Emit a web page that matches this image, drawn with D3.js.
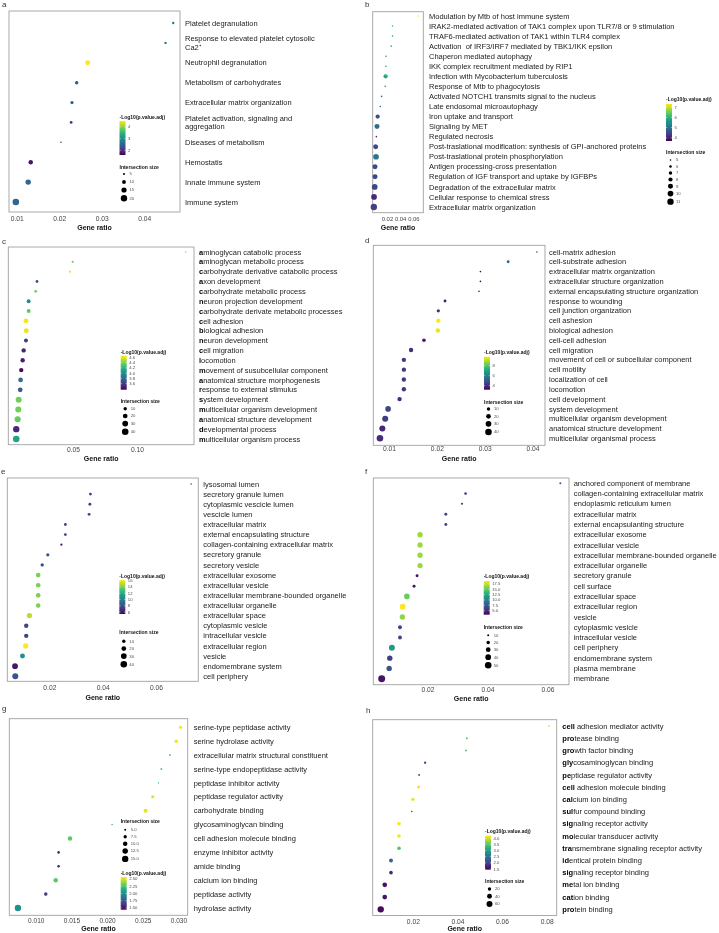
<!DOCTYPE html>
<html><head><meta charset="utf-8">
<script src="https://cdn.jsdelivr.net/npm/d3@7"></script>
<style>
body{margin:0;background:#fff;}
svg{opacity:0.999;will-change:transform;}
text{font-family:"Liberation Sans", Arial, Helvetica, sans-serif;}
</style></head><body>
<svg id="chart" width="719" height="933"></svg>
<script>
// ---------- DATA ----------
const aTerms = ["Platelet degranulation", "Response to elevated platelet cytosolic\nCa2\u207A", "Neutrophil degranulation", "Metabolism of carbohydrates", "Extracellular matrix organization", "Platelet activation, signaling and\naggregation", "Diseases of metabolism", "Hemostatis", "Innate immune system", "Immune system"];
const aRatio = [0.0468, 0.0450, 0.0267, 0.0241, 0.0230, 0.0228, 0.0204, 0.0133, 0.0127, 0.0098];
const aLogP = [2.76, 2.8, 4.5, 2.4, 2.4, 2.1, 1.9, 1.75, 2.55, 2.55];
const aSize = [6, 6, 14, 9, 8, 7, 4, 12, 16, 21];
const aTicks = [0.01, 0.02, 0.03, 0.04];
const aColorTicks = [2, 3, 4];
const aSizeTicks = [5, 10, 15, 20];

const bTerms = ["Modulation by Mtb of host immune system", "IRAK2-mediated activation of TAK1 complex upon TLR7/8 or 9 stimulation", "TRAF6-mediated activation of TAK1 within TLR4 complex", "Activation  of IRF3/IRF7 mediated by TBK1/IKK epsilon", "Chaperon mediated autophagy", "IKK complex recruitment mediated by RIP1", "Infection with Mycobacterium tuberculosis", "Response of Mtb to phagocytosis", "Activated NOTCH1 transmits signal to the nucleus", "Late endosomal microautophagy", "Iron uptake and transport", "Signaling by MET", "Regulated necrosis", "Post-traslational modification: synthesis of GPI-anchored proteins", "Post-traslational protein phosphorylation", "Antigen processing-cross presentation", "Regulation of IGF transport and uptake by IGFBPs", "Degradation of the extracellular matrix", "Cellular response to chemical stress", "Extracellular matrix organization"];
const bRatio = [0.0675, 0.0285, 0.0285, 0.0265, 0.0185, 0.0185, 0.018, 0.0175, 0.012, 0.010, 0.006, 0.005, 0.004, 0.003, 0.0035, 0.002, 0.002, 0.0015, 0.0005, 0.0002];
const bLogP = [7.3, 6.0, 6.0, 5.9, 5.5, 5.5, 5.9, 5.5, 5.0, 4.9, 4.6, 5.0, 4.0, 4.5, 5.1, 4.5, 4.5, 4.5, 4.1, 4.4];
const bSize = [5, 5, 5, 5, 5, 5, 8, 5, 5, 5, 8, 9, 5, 9, 10, 9, 9, 10, 10, 11];
const bTicks = [0.02, 0.04, 0.06];
const bColorTicks = [4, 5, 6, 7];
const bSizeTicks = [5, 6, 7, 8, 9, 10, 11];

const cTerms = ["aminoglycan catabolic process", "aminoglycan metabolic process", "carbohydrate derivative catabolic process", "axon development", "carbohydrate metabolic process", "neuron projection development", "carbohydrate derivate metabolic processes", "cell adhesion", "biological adhesion", "neuron development", "cell migration", "locomotion", "movement of susubcellular component", "anatomical structure morphogenesis", "response to external stimulus", "system development", "multicellular organism development", "anatomical structure development", "developmental process", "multicellular organism process"];
const cRatio = [0.138, 0.0498, 0.0477, 0.0219, 0.0209, 0.0154, 0.0154, 0.0133, 0.0135, 0.0133, 0.0115, 0.0107, 0.0096, 0.0091, 0.0088, 0.0076, 0.0073, 0.0068, 0.0057, 0.0057];
const cLogP = [4.47, 4.38, 4.63, 3.72, 4.4, 4.0, 4.34, 4.64, 4.62, 3.6, 3.5, 3.47, 3.41, 3.85, 3.73, 4.38, 4.38, 4.35, 3.52, 4.12];
const cSize = [2, 4, 4, 7, 7, 14, 14, 22, 22, 14, 17, 17, 17, 20, 20, 33, 33, 34, 37, 40];
const cBold = [1, 1, 1, 1, 1, 1, 1, 1, 1, 1, 1, 1, 1, 1, 1, 1, 1, 1, 1, 1];
const cTicks = [0.05, 0.10];
const cColorTicks = [3.6, 3.8, 4.0, 4.2, 4.4, 4.6];
const cSizeTicks = [10, 20, 30, 40];

const dTerms = ["cell-matrix adhesion", "cell-substrate adhesion", "extracellular matrix organization", "extracellular structure organization", "external encapsulating structure organization", "response to wounding", "cell junction organization", "cell ashesion", "biological adhesion", "cell-cell adhesion", "cell migration", "movement of cell or subcellular component", "cell motility", "localization of cell", "locomotion", "cell development", "system development", "multicellular organism development", "anatomical structure development", "multicellular organismal process"];
const dRatio = [0.0409, 0.0349, 0.0291, 0.0291, 0.0288, 0.0217, 0.0203, 0.0203, 0.0202, 0.0173, 0.0146, 0.0131, 0.0131, 0.0131, 0.0131, 0.0122, 0.0098, 0.0092, 0.0086, 0.0081];
const dLogP = [4.5, 5.4, 3.3, 3.3, 3.3, 3.7, 4.1, 9.8, 9.6, 3.6, 4.1, 4.3, 4.3, 4.3, 4.3, 4.0, 4.6, 4.3, 3.9, 4.0];
const dSize = [2, 7, 2, 2, 2, 7, 9, 17, 17, 11, 17, 17, 17, 17, 17, 17, 29, 33, 33, 40];
const dTicks = [0.01, 0.02, 0.03, 0.04];
const dColorTicks = [4, 6, 8];
const dSizeTicks = [10, 20, 30, 40];

const eTerms = ["lysosomal lumen", "secretory granule lumen", "cytoplasmic vescicle lumen", "vescicle lumen", "extracellular matrix", "external encapsulating structure", "collagen-containing extracellular matrix", "secretory granule", "secretory vesicle", "extracellular exosome", "extracellular vesicle", "extracellular membrane-bounded organelle", "extracellular organelle", "extracellular space", "cytoplasmic vesicle", "intracellular vesicle", "extracellular region", "vesicle", "endomembrane system", "cell periphery"];
const eRatio = [0.0732, 0.0354, 0.0352, 0.0349, 0.026, 0.026, 0.0245, 0.0194, 0.0173, 0.0158, 0.0158, 0.0158, 0.0158, 0.0125, 0.0113, 0.0113, 0.0111, 0.0099, 0.0071, 0.0072];
const eLogP = [7.6, 7.4, 7.4, 7.4, 7.6, 7.6, 5.9, 8.1, 7.6, 14.0, 14.0, 14.0, 14.0, 15.1, 7.6, 7.6, 16.2, 10.8, 6.0, 8.3];
const eSize = [2, 7, 7, 7, 7, 7, 4, 9, 9, 19, 19, 19, 19, 25, 17, 17, 26, 22, 30, 33];
const eTicks = [0.02, 0.04, 0.06];
const eColorTicks = [6, 8, 10, 12, 14, 16];
const eSizeTicks = [10, 20, 30, 40];

const fTerms = ["anchored component of membrane", "collagen-containing extracellular matrix", "endoplasmic reticulum lumen", "extracellular matrix", "external encapsulanting structure", "extracellular exosome", "extracellular vesicle", "extracellular membrane-bounded organelle", "extracellular organelle", "secretory granule", "cell surface", "extracellular space", "extracellular region", "vesicle", "cytoplasmic vesicle", "intracellular vesicle", "cell periphery", "endomembrane system", "plasma membrane", "membrane"];
const fRatio = [0.0643, 0.0327, 0.0315, 0.0261, 0.0261, 0.0175, 0.0175, 0.0175, 0.0175, 0.0165, 0.0155, 0.0131, 0.0117, 0.0116, 0.0108, 0.0108, 0.0081, 0.0074, 0.0072, 0.0047];
const fLogP = [7.1, 6.3, 4.7, 6.3, 6.3, 16.5, 16.5, 16.5, 16.5, 3.9, 3.9, 15.3, 18.9, 16.2, 6.3, 6.3, 11.8, 6.0, 7.1, 3.9];
const fSize = [10, 14, 10, 16, 16, 36, 36, 36, 36, 16, 16, 39, 40, 36, 23, 23, 43, 36, 36, 54];
const fTicks = [0.02, 0.04, 0.06];
const fColorTicks = [5, 7.5, 10, 12.5, 15, 17.5];
const fSizeTicks = [10, 20, 30, 40, 50];

const gTerms = ["serine-type peptidase activity", "serine hydrolase activity", "extracellular matrix structural constituent", "serine-type endopeptidase activity", "peptidase inhibitor activity", "peptidase regulator activity", "carbohydrate binding", "glycosaminoglycan binding", "cell adhesion molecule binding", "enzyme inhibitor activity", "amide binding", "calcium ion binding", "peptidase activity", "hydrolase activity"];
const gRatio = [0.0303, 0.0297, 0.0288, 0.0276, 0.0272, 0.0264, 0.0254, 0.0207, 0.0148, 0.0132, 0.0132, 0.0128, 0.0114, 0.0075];
const gLogP = [2.55, 2.55, 2.29, 2.29, 2.17, 2.51, 2.53, 2.0, 2.29, 1.55, 1.55, 2.29, 1.67, 2.0];
const gSize = [7, 8, 5, 5, 4, 7, 9, 4, 10, 6, 6, 10, 8, 15];
const gTicks = [0.010, 0.015, 0.020, 0.025, 0.030];
const gColorTicks = [1.5, 1.75, 2.0, 2.25, 2.5];
const gSizeTicks = [5, 7.5, 10, 12.5, 15];

const hTerms = ["cell adhesion mediator activity", "protease binding", "growth factor binding", "glycosaminoglycan binding", "peptidase regulator activity", "cell adhesion molecule binding", "calcium ion binding", "sulfur compound binding", "signaling receptor activity", "molecular transducer activity", "transmembrane signaling receptor activity", "identical protein binding", "signaling receptor binding", "metal ion binding", "cation binding", "protein binding"];
const hRatio = [0.0810, 0.0442, 0.0438, 0.0255, 0.0228, 0.0226, 0.0200, 0.0195, 0.0138, 0.0138, 0.0138, 0.0102, 0.0102, 0.0074, 0.0074, 0.0056];
const hLogP = [3.8, 3.43, 3.43, 2.14, 1.86, 4.15, 4.12, 2.0, 4.15, 4.15, 3.43, 2.33, 1.73, 1.6, 1.6, 1.53];
const hSize = [5, 7, 7, 10, 7, 16, 19, 5, 23, 23, 22, 27, 23, 37, 37, 67];
const hBold = [4, 3, 3, 3, 2, 4, 3, 3, 3, 2, 3, 2, 3, 2, 3, 3];
const hTicks = [0.02, 0.04, 0.06, 0.08];
const hColorTicks = [1.5, 2.0, 2.5, 3.0, 3.5, 4.0];
const hSizeTicks = [20, 40, 60];

// ---------- LAYOUT / STYLE ----------
const panels = [
  {letter:'a', lp:[2,7], terms:aTerms, ratio:aRatio, logp:aLogP, size:aSize, bold:null,
   box:[9,11,180,212], xDomain:[0.00819,0.0484], ticks:aTicks, tickFmt:'.2f', tickFont:6.7, rows:[23,202], labelX:185, tickY:219, titleY:228,
   cDomain:[1.6,4.5], cTicks:aColorTicks, cFmt:'d', sDomain:[5,20], sRange:[1,3.2], sTicks:aSizeTicks, sFmt:'d',
   lx:119.5, cbTitleY:117, cbTop:121, cbBot:155, szTitleY:167, szFirstY:174, minKey:8},
  {letter:'b', lp:[365,7], terms:bTerms, ratio:bRatio, logp:bLogP, size:bSize, bold:null,
   box:[372.7,11.7,423.3,212.7], xDomain:[-0.0015,0.075], ticks:bTicks, tickFmt:'.2f', tickFont:5.9, rows:[16,207], labelX:429, tickY:219, titleY:228,
   cDomain:[3.7,7.3], cTicks:bColorTicks, cFmt:'d', sDomain:[5,11], sRange:[0.8,3.2], sTicks:bSizeTicks, sFmt:'d',
   lx:666, cbTitleY:99, cbTop:104, cbBot:141, szTitleY:152, szFirstY:160, minKey:6.5},
  {letter:'c', lp:[2,243.5], terms:cTerms, ratio:cRatio, logp:cLogP, size:cSize, bold:cBold,
   box:[8.3,247,194,444.7], xDomain:[-0.0005,0.1445], ticks:cTicks, tickFmt:'.2f', tickFont:6.7, rows:[252,439], labelX:199, tickY:449.7, titleY:458.7,
   cDomain:[3.37,4.66], cTicks:cColorTicks, cFmt:'.1f', sDomain:[10,40], sRange:[1.7,3.3], sTicks:cSizeTicks, sFmt:'d',
   lx:120.7, cbTitleY:352.3, cbTop:355.8, cbBot:389.7, szTitleY:401.7, szFirstY:408.7, minKey:7.3},
  {letter:'d', lp:[365,242.5], terms:dTerms, ratio:dRatio, logp:dLogP, size:dSize, bold:null,
   box:[373.3,245.3,545,445.3], xDomain:[0.00671,0.0426], ticks:dTicks, tickFmt:'.2f', tickFont:6.7, rows:[252,438.3], labelX:549, tickY:449, titleY:459,
   cDomain:[3.2,9.8], cTicks:dColorTicks, cFmt:'d', sDomain:[10,40], sRange:[1.7,3.3], sTicks:dSizeTicks, sFmt:'d',
   lx:484, cbTitleY:352.3, cbTop:356.7, cbBot:389.7, szTitleY:402, szFirstY:409, minKey:7.3},
  {letter:'e', lp:[1,473.5], terms:eTerms, ratio:eRatio, logp:eLogP, size:eSize, bold:null,
   box:[7.3,478,198.3,681.3], xDomain:[0.0042,0.0759], ticks:eTicks, tickFmt:'.2f', tickFont:6.7, rows:[484,676.3], labelX:203.3, tickY:688, titleY:697.3,
   cDomain:[5.4,16.2], cTicks:eColorTicks, cFmt:'d', sDomain:[10,40], sRange:[1.7,3.3], sTicks:eSizeTicks, sFmt:'d',
   lx:119.3, cbTitleY:576.3, cbTop:580, cbBot:614, szTitleY:632.7, szFirstY:641.3, minKey:7.3},
  {letter:'f', lp:[365,474], terms:fTerms, ratio:fRatio, logp:fLogP, size:fSize, bold:null,
   box:[373.3,478,569,684.7], xDomain:[0.0019,0.0672], ticks:fTicks, tickFmt:'.2f', tickFont:6.7, rows:[483.3,678.7], labelX:573.7, tickY:689.7, titleY:699,
   cDomain:[3.1,18.9], cTicks:fColorTicks, cFmt:'.1f', sDomain:[10,50], sRange:[1,3.3], sTicks:fSizeTicks, sFmt:'d',
   lx:483.7, cbTitleY:576.3, cbTop:581, cbBot:614.7, szTitleY:627.3, szFirstY:635.3, minKey:7.2},
  {letter:'g', lp:[2,711], terms:gTerms, ratio:gRatio, logp:gLogP, size:gSize, bold:null,
   box:[9.3,718.7,187.7,915.3], xDomain:[0.00629,0.0313], ticks:gTicks, tickFmt:'.3f', tickFont:6.5, rows:[727.3,908], labelX:193.7, tickY:921, titleY:928.3,
   cDomain:[1.44,2.57], cTicks:gColorTicks, cFmt:'.2f', sDomain:[5,15], sRange:[1,3.2], sTicks:gSizeTicks, sFmt:'.1f',
   lx:120.7, cbTitleY:873, cbTop:877, cbBot:909.7, szTitleY:821.3, szFirstY:829.7, minKey:7},
  {letter:'h', lp:[366,712.5], terms:hTerms, ratio:hRatio, logp:hLogP, size:hSize, bold:hBold,
   box:[372.7,719.7,556.7,915.5], xDomain:[0.002,0.0845], ticks:hTicks, tickFmt:'.2f', tickFont:6.7, rows:[726,909.3], labelX:562.3, tickY:921.3, titleY:928.3,
   cDomain:[1.45,4.2], cTicks:hColorTicks, cFmt:'.1f', sDomain:[20,60], sRange:[1.7,3.0], sTicks:hSizeTicks, sFmt:'d',
   lx:485, cbTitleY:831.3, cbTop:835.7, cbBot:869.7, szTitleY:881, szFirstY:889, minKey:7.3}
];

const FONT = '"Liberation Sans", Arial, Helvetica, sans-serif';
const svg = d3.select('#chart');
const defs = svg.append('defs');
const grad = defs.append('linearGradient').attr('id','viridisGrad')
  .attr('x1',0).attr('y1',1).attr('x2',0).attr('y2',0);
d3.range(0, 21).forEach(i => {
  grad.append('stop').attr('offset', (i/20)).attr('stop-color', d3.interpolateViridis(i/20));
});

function drawPanel(p) {
  const g = svg.append('g');
  g.append('text').attr('x', p.lp[0]).attr('y', p.lp[1]).attr('font-size', 8).attr('fill', '#333').text(p.letter);

  const x = d3.scaleLinear().domain(p.xDomain).range([p.box[0], p.box[2]]);
  const y = d3.scalePoint().domain(p.terms).range(p.rows);
  const color = d3.scaleSequential(d3.interpolateViridis).domain(p.cDomain);
  const rad = d3.scaleSqrt().domain(p.sDomain).range(p.sRange);

  g.append('rect').attr('x', p.box[0]).attr('y', p.box[1])
    .attr('width', p.box[2]-p.box[0]).attr('height', p.box[3]-p.box[1])
    .attr('fill', 'none').attr('stroke', '#a0a0a0').attr('stroke-width', 0.9);

  const ax = g.append('g').attr('transform', `translate(0,${p.box[3]})`)
    .call(d3.axisBottom(x).tickValues(p.ticks).tickFormat(d3.format(p.tickFmt)).tickSize(0));
  ax.select('.domain').remove();
  ax.selectAll('text').attr('y', p.tickY - p.box[3]).attr('dy', '0.35em')
    .attr('font-size', p.tickFont).attr('fill', '#444').attr('font-family', FONT);
  ax.attr('font-family', FONT);

  g.append('text').attr('x', (p.box[0]+p.box[2])/2).attr('y', p.titleY).attr('dy','0.35em')
    .attr('text-anchor','middle').attr('font-size', 7).attr('font-weight','bold').attr('fill','#111').text('Gene ratio');

  const data = p.terms.map((t, i) => ({t, r: p.ratio[i], l: p.logp[i], s: p.size[i], b: p.bold ? p.bold[i] : 0}));

  g.selectAll('circle.dot').data(data).join('circle').attr('class','dot')
    .attr('cx', d => x(d.r)).attr('cy', d => y(d.t)).attr('r', d => rad(d.s))
    .attr('fill', d => color(d.l));

  const lab = g.selectAll('text.term').data(data).join('text').attr('class','term')
    .attr('x', p.labelX).attr('y', d => y(d.t)).attr('font-size', 7.5).attr('fill', '#222')
    .style('white-space','pre');
  lab.each(function(d) {
    const el = d3.select(this);
    const lines = d.t.split('\n');
    if (lines.length > 1) {
      lines.forEach((ln, k) => {
        el.append('tspan').attr('x', p.labelX)
          .attr('y', y(d.t) + (k - (lines.length-1)/2) * 8.7).attr('dy','0.35em').text(ln);
      });
    } else if (d.b > 0) {
      el.attr('dy','0.35em');
      el.append('tspan').attr('font-weight','bold').attr('fill','#000').text(d.t.slice(0, d.b));
      el.append('tspan').text(d.t.slice(d.b));
    } else {
      el.attr('dy','0.35em').text(d.t);
    }
  });

  // colorbar
  const cbW = 6;
  g.append('text').attr('x', p.lx).attr('y', p.cbTitleY).attr('dy','0.35em')
    .attr('font-size', 5).attr('font-weight','bold').attr('fill','#111').text('-Log10(p.value.adj)');
  g.append('rect').attr('x', p.lx).attr('y', p.cbTop).attr('width', cbW).attr('height', p.cbBot - p.cbTop)
    .attr('fill', 'url(#viridisGrad)');
  const cb = d3.scaleLinear().domain(p.cDomain).range([p.cbBot, p.cbTop]);
  const cfmt = d3.format(p.cFmt);
  p.cTicks.forEach(v => {
    g.append('line').attr('x1', p.lx).attr('x2', p.lx + 1.2).attr('y1', cb(v)).attr('y2', cb(v)).attr('stroke','#fff').attr('stroke-width',0.5);
    g.append('line').attr('x1', p.lx + cbW - 1.2).attr('x2', p.lx + cbW).attr('y1', cb(v)).attr('y2', cb(v)).attr('stroke','#fff').attr('stroke-width',0.5);
    g.append('text').attr('x', p.lx + cbW + 2.5).attr('y', cb(v)).attr('dy','0.35em')
      .attr('font-size', 4.2).attr('fill','#4d4d4d').text(cfmt(v));
  });

  // size legend
  g.append('text').attr('x', p.lx).attr('y', p.szTitleY).attr('dy','0.35em')
    .attr('font-size', 5).attr('font-weight','bold').attr('fill','#111').text('Intersection size');
  const sfmt = d3.format(p.sFmt);
  const heights = p.sTicks.map(v => Math.max(p.minKey, 2*rad(v) + 2));
  let yy = p.szFirstY;
  p.sTicks.forEach((v, i) => {
    if (i > 0) yy += (heights[i-1] + heights[i]) / 2;
    g.append('circle').attr('cx', p.lx + 4.5).attr('cy', yy).attr('r', rad(v)).attr('fill','#000');
    g.append('text').attr('x', p.lx + 10).attr('y', yy).attr('dy','0.35em')
      .attr('font-size', 4.2).attr('fill','#4d4d4d').text(sfmt(v));
  });
}

panels.forEach(drawPanel);
</script>
</body></html>
